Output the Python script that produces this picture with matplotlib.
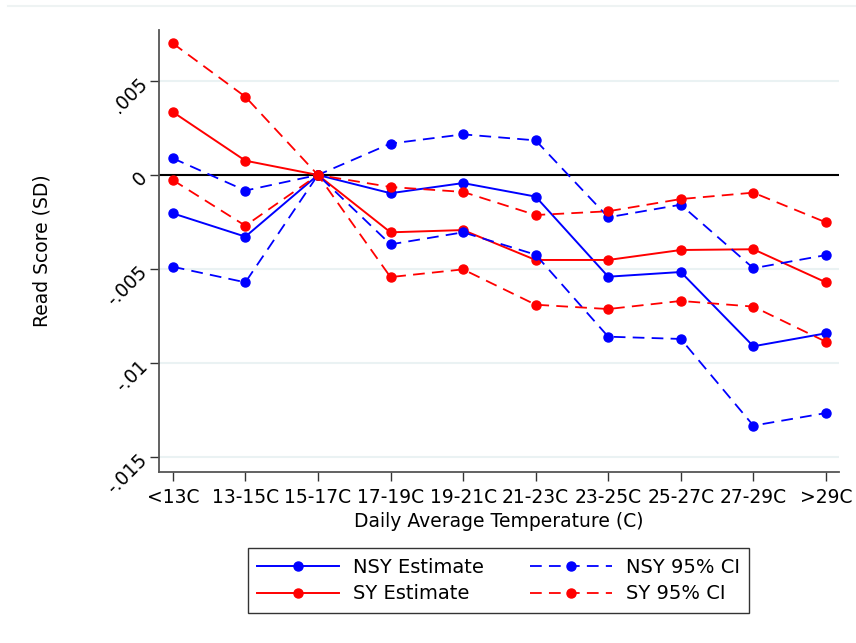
import numpy as np
import matplotlib
matplotlib.use("Agg")
import matplotlib.pyplot as plt
from matplotlib.lines import Line2D

plt.rcParams['font.family'] = ['DejaVu Sans']

# categorias de temperatura
cats = ["<13C", "13-15C", "15-17C", "17-19C", "19-21C",
        "21-23C", "23-25C", "25-27C", "27-29C", ">29C"]

# estimaciones y limites del intervalo
nsy_est = [-0.00204, -0.00328, 0.0, -0.00097, -0.00043, -0.00115, -0.00541, -0.00516, -0.00911, -0.00842]
nsy_hi = [0.00089, -0.00083, 0.0, 0.00167, 0.00216, 0.00184, -0.00225, -0.00158, -0.00496, -0.00426]
nsy_lo = [-0.00488, -0.00571, 0.0, -0.00369, -0.00305, -0.00424, -0.00860, -0.00872, -0.01333, -0.01266]

sy_est = [0.00335, 0.00076, 0.0, -0.00305, -0.00293, -0.00452, -0.00452, -0.00399, -0.00395, -0.00571]
sy_hi = [0.00700, 0.00416, 0.0, -0.00064, -0.00090, -0.00213, -0.00193, -0.00128, -0.00094, -0.00252]
sy_lo = [-0.00027, -0.00270, 0.0, -0.00543, -0.00502, -0.00690, -0.00713, -0.00670, -0.00700, -0.00887]

yticks = [0.005, 0, -0.005, -0.01, -0.015]
ytick_labels = [".005", "0", "-.005", "-.01", "-.015"]

x = np.arange(len(cats))

fig = plt.figure(figsize=(8.56, 6.43), dpi=100)
ax = fig.add_axes([159/856, 1 - 471.7/643, (839 - 159)/856, (471.7 - 30)/643])

for v in yticks:
    ax.axhline(v, color="#eaf2f3", lw=1.5, zorder=0)
ax.axhline(0, color="black", lw=1.5, zorder=1)

est_kw = dict(lw=1.4, marker="o", markersize=6.5)
ci_kw = dict(lw=1.3, marker="o", markersize=6.5, dashes=(6.5, 4))

ax.plot(x, nsy_est, color="blue", label="NSY Estimate", **est_kw)
ax.plot(x, sy_est, color="red", label="SY Estimate", **est_kw)
ax.plot(x, nsy_hi, color="blue", label="NSY 95% CI", **ci_kw)
ax.plot(x, nsy_lo, color="blue", **ci_kw)
ax.plot(x, sy_hi, color="red", label="SY 95% CI", **ci_kw)
ax.plot(x, sy_lo, color="red", **ci_kw)

ax.set_xlim(-0.19, 9.18)
ax.set_ylim(-0.01578, 0.00771)
ax.set_xticks(x)
ax.set_xticklabels(cats, fontsize=13.5)
ax.set_yticks(yticks)
ax.set_yticklabels(ytick_labels, fontsize=13.5, rotation=45, ha="right", va="center",
                   rotation_mode="anchor")
ax.tick_params(axis="both", direction="out", length=6.5, width=1, color="#333333")
ax.tick_params(axis="y", pad=4)
ax.tick_params(axis="x", pad=5.5)

for s in ["top", "right"]:
    ax.spines[s].set_visible(False)
ax.spines["left"].set_color("#555555")
ax.spines["bottom"].set_color("#555555")
ax.spines["left"].set_linewidth(1.3)
ax.spines["bottom"].set_linewidth(1.3)

ax.set_xlabel("Daily Average Temperature (C)", fontsize=13.5, labelpad=3)
ax.set_ylabel("Read Score (SD)", fontsize=13.5)
ax.yaxis.set_label_coords((52 - 159) / 680, 0.5)

h, l = ax.get_legend_handles_labels()
leg = fig.legend(h, l, ncol=2,
                 loc="center", bbox_to_anchor=(498.5/856, 1 - 580.5/643),
                 fontsize=14, handlelength=4.2, numpoints=1, frameon=True,
                 fancybox=False, edgecolor="black", columnspacing=2.4,
                 borderpad=0.5, labelspacing=0.4, handletextpad=0.7)
leg.get_frame().set_linewidth(1.0)

fig.add_artist(Line2D([8/856, 1], [1 - 6/643, 1 - 6/643], color="#eef3f3", lw=1.5))

fig.savefig("out.png", dpi=100, facecolor="white")
